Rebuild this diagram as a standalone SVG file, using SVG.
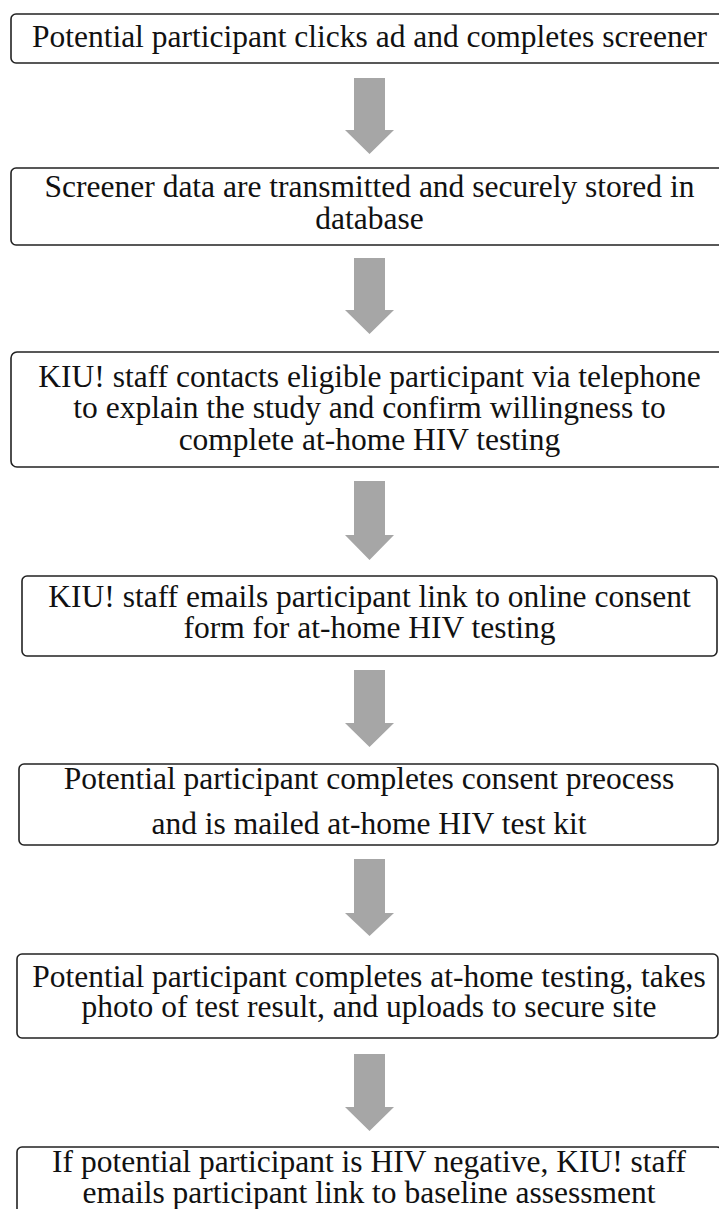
<svg xmlns="http://www.w3.org/2000/svg" width="719" height="1209" viewBox="0 0 719 1209">
<style>
.box{fill:#fff;stroke:#222;stroke-width:1.6}
text{font-family:'Liberation Serif','Times New Roman',serif;font-size:31.5px;fill:#111;text-anchor:middle}
.arr{fill:#a6a6a6}
</style>
<rect width="719" height="1209" fill="#fff"/>
<g id="connectors">
<path class="arr" d="M354,78 H385 V130 H394 L369.5,154 L345,130 H354 Z"/>
<path class="arr" d="M354,258 H385 V310 H394 L369.5,334 L345,310 H354 Z"/>
<path class="arr" d="M354,481 H385 V535 H394 L369.5,560 L345,535 H354 Z"/>
<path class="arr" d="M354,670 H385 V723 H394 L369.5,747 L345,723 H354 Z"/>
<path class="arr" d="M354,859 H385 V913 H394 L369.5,936 L345,913 H354 Z"/>
<path class="arr" d="M354,1054 H385 V1107 H394 L369.5,1131 L345,1107 H354 Z"/>
</g>
<g id="node1">
<rect class="box" x="11" y="14" width="717" height="49" rx="5"/>
<text x="369.5" y="47">Potential participant clicks ad and completes screener</text>
</g>
<g id="node2">
<rect class="box" x="11" y="168" width="717" height="77" rx="5"/>
<text x="369.5" y="197">Screener data are transmitted and securely stored in</text>
<text x="369.5" y="229">database</text>
</g>
<g id="node3">
<rect class="box" x="11" y="352" width="717" height="115" rx="6"/>
<text x="369.5" y="387">KIU! staff contacts eligible participant via telephone</text>
<text x="369.5" y="418">to explain the study and confirm willingness to</text>
<text x="369.5" y="450">complete at-home HIV testing</text>
</g>
<g id="node4">
<rect class="box" x="22" y="576" width="695" height="80" rx="5"/>
<text x="369.5" y="607">KIU! staff emails participant link to online consent</text>
<text x="369.5" y="638">form for at-home HIV testing</text>
</g>
<g id="node5">
<rect class="box" x="19" y="764" width="699" height="81" rx="5"/>
<text x="369" y="789">Potential participant completes consent preocess</text>
<text x="369" y="834">and is mailed at-home HIV test kit</text>
</g>
<g id="node6">
<rect class="box" x="17" y="954" width="701" height="84" rx="5"/>
<text x="369" y="987">Potential participant completes at-home testing, takes</text>
<text x="369" y="1017">photo of test result, and uploads to secure site</text>
</g>
<g id="node7">
<rect class="box" x="17" y="1147" width="705" height="90" rx="5"/>
<text x="369" y="1172">If potential participant is HIV negative, KIU! staff</text>
<text x="369" y="1203">emails participant link to baseline assessment</text>
</g>
</svg>
